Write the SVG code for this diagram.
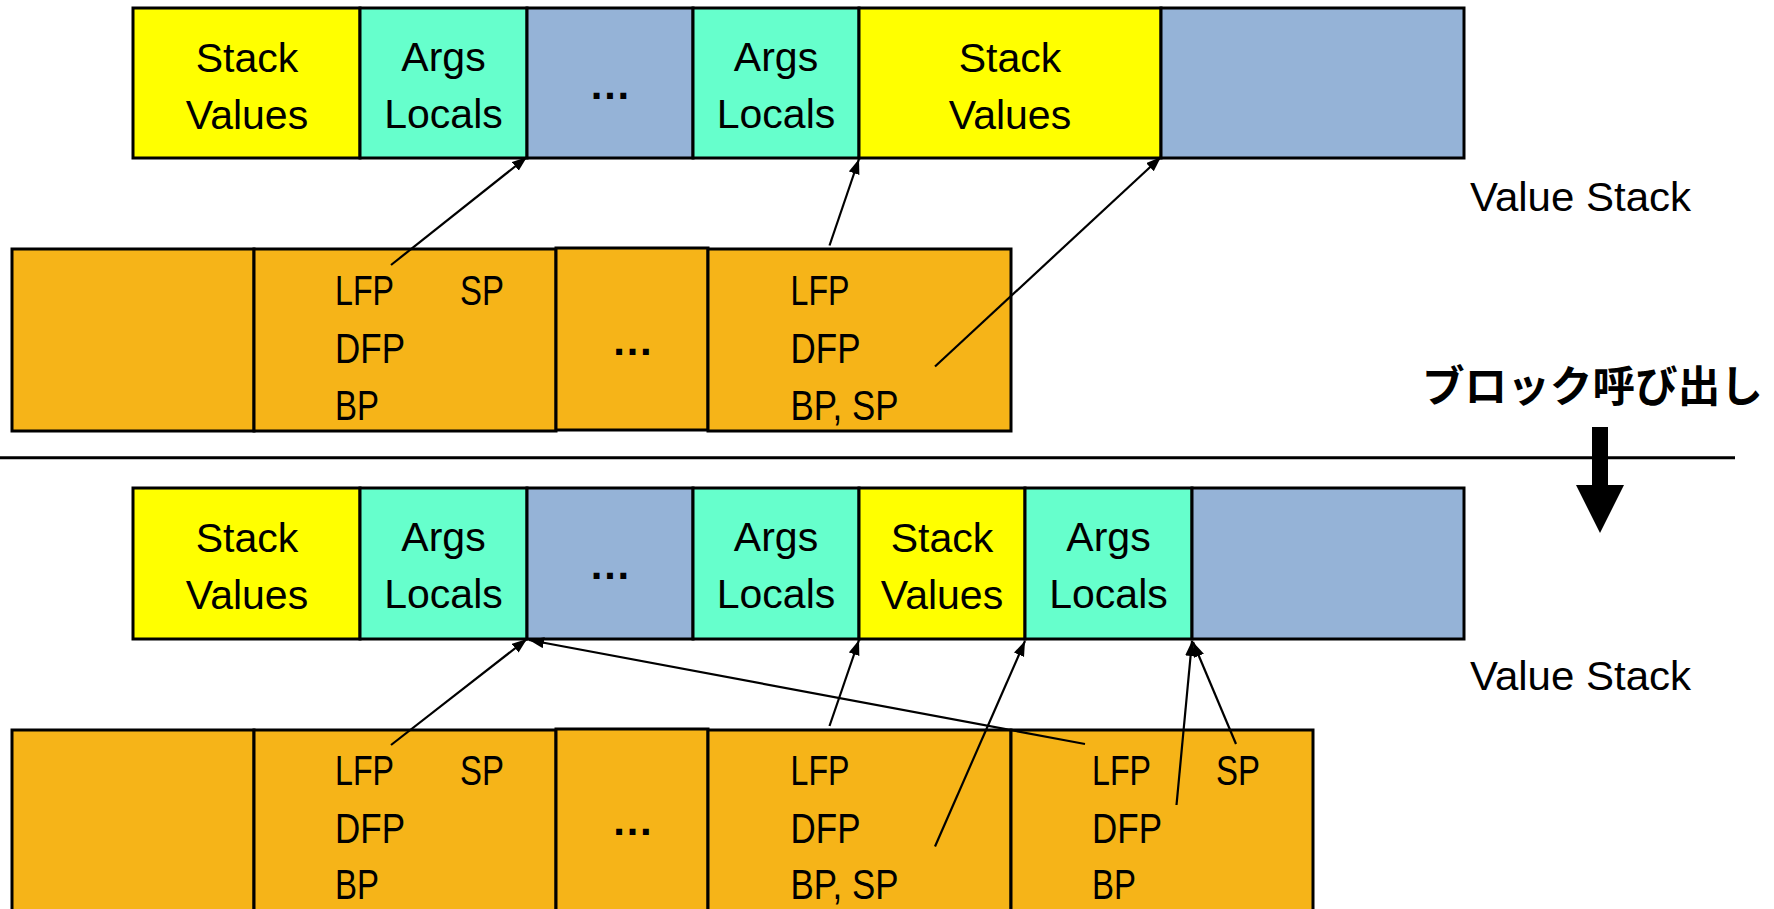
<svg xmlns="http://www.w3.org/2000/svg" width="1774" height="909" viewBox="0 0 1774 909">
<defs>
<style>
.box{stroke:#000;stroke-width:3}
.y{fill:#FFFF00}
.g{fill:#66FFCC}
.b{fill:#95B3D7}
.o{fill:#F6B418}
text{font-family:"Liberation Sans",Arial,sans-serif;font-size:41px;fill:#000}
.c{text-anchor:middle}
.d{font-weight:bold;font-size:42px}
.k{font-size:43px}
.jp{font-family:"Noto Sans CJK JP","Noto Sans CJK SC",sans-serif;font-weight:bold;font-size:43px}
.conn line{stroke:#000;stroke-width:2.2;fill:none;marker-end:url(#ah)}
</style>
<marker id="ah" markerUnits="userSpaceOnUse" markerWidth="16" markerHeight="12" refX="15" refY="5.5" orient="auto">
<path d="M0,0 L15,5.5 L0,11 z" fill="#000"/>
</marker>
</defs>
<rect width="1774" height="909" fill="#fff"/>

<!-- Top value stack -->
<g id="top-stack-values-1"><rect class="box y" x="133" y="8" width="227" height="150"/><text class="c" x="247" y="71.5">Stack</text><text class="c" x="247" y="129">Values</text></g>
<g id="top-args-locals-1"><rect class="box g" x="360" y="8" width="167" height="150"/><text class="c" x="443.5" y="71">Args</text><text class="c" x="443.5" y="128">Locals</text></g>
<g id="top-dots"><rect class="box b" x="527" y="8" width="166" height="150"/><text class="c d" x="610" y="99">…</text></g>
<g id="top-args-locals-2"><rect class="box g" x="693" y="8" width="166" height="150"/><text class="c" x="776" y="71">Args</text><text class="c" x="776" y="128">Locals</text></g>
<g id="top-stack-values-2"><rect class="box y" x="859" y="8" width="302" height="150"/><text class="c" x="1010" y="71.5">Stack</text><text class="c" x="1010" y="129">Values</text></g>
<g id="top-free"><rect class="box b" x="1161" y="8" width="303" height="150"/></g>
<g id="top-label"><text x="1470" y="210.5" textLength="221" lengthAdjust="spacingAndGlyphs">Value Stack</text></g>

<!-- Top control frames -->
<g id="top-frame-0"><rect class="box o" x="12" y="249" width="242" height="182"/></g>
<g id="top-frame-1"><rect class="box o" x="254" y="249" width="302" height="182"/>
<text class="k" x="335" y="305" textLength="59" lengthAdjust="spacingAndGlyphs">LFP</text>
<text class="k" x="460" y="305" textLength="44" lengthAdjust="spacingAndGlyphs">SP</text>
<text class="k" x="335" y="362.5" textLength="70" lengthAdjust="spacingAndGlyphs">DFP</text>
<text class="k" x="335" y="419.5" textLength="44" lengthAdjust="spacingAndGlyphs">BP</text></g>
<g id="top-frame-dots"><rect class="box o" x="556" y="248" width="152" height="182"/><text class="c d" x="632.5" y="355">…</text></g>
<g id="top-frame-2"><rect class="box o" x="708" y="249" width="303" height="182"/>
<text class="k" x="790.5" y="305" textLength="59" lengthAdjust="spacingAndGlyphs">LFP</text>
<text class="k" x="790.5" y="362.5" textLength="70" lengthAdjust="spacingAndGlyphs">DFP</text>
<text class="k" x="790.5" y="419.5" textLength="108" lengthAdjust="spacingAndGlyphs">BP, SP</text></g>

<!-- Separator and call arrow -->
<g id="separator"><line x1="0" y1="457.7" x2="1735" y2="457.7" stroke="#000" stroke-width="3"/></g>
<g id="call-label"><text class="jp" x="1422" y="402" textLength="341" lengthAdjust="spacingAndGlyphs">ブロック呼び出し</text></g>
<g id="call-arrow"><polygon points="1592,427 1608,427 1608,485 1624,485 1600,533 1576,485 1592,485" fill="#000"/></g>

<!-- Bottom value stack -->
<g id="bot-stack-values-1"><rect class="box y" x="133" y="488" width="227" height="151"/><text class="c" x="247" y="551.5">Stack</text><text class="c" x="247" y="608.5">Values</text></g>
<g id="bot-args-locals-1"><rect class="box g" x="360" y="488" width="167" height="151"/><text class="c" x="443.5" y="551">Args</text><text class="c" x="443.5" y="608">Locals</text></g>
<g id="bot-dots"><rect class="box b" x="527" y="488" width="166" height="151"/><text class="c d" x="610" y="579">…</text></g>
<g id="bot-args-locals-2"><rect class="box g" x="693" y="488" width="166" height="151"/><text class="c" x="776" y="551">Args</text><text class="c" x="776" y="608">Locals</text></g>
<g id="bot-stack-values-2"><rect class="box y" x="859" y="488" width="166" height="151"/><text class="c" x="942" y="551.5">Stack</text><text class="c" x="942" y="608.5">Values</text></g>
<g id="bot-args-locals-3"><rect class="box g" x="1025" y="488" width="167" height="151"/><text class="c" x="1108.5" y="551">Args</text><text class="c" x="1108.5" y="608">Locals</text></g>
<g id="bot-free"><rect class="box b" x="1192" y="488" width="272" height="151"/></g>
<g id="bot-label"><text x="1470" y="689.5" textLength="221" lengthAdjust="spacingAndGlyphs">Value Stack</text></g>

<!-- Bottom control frames -->
<g id="bot-frame-0"><rect class="box o" x="12" y="730" width="242" height="184"/></g>
<g id="bot-frame-1"><rect class="box o" x="254" y="730" width="302" height="184"/>
<text class="k" x="335" y="785" textLength="59" lengthAdjust="spacingAndGlyphs">LFP</text>
<text class="k" x="460" y="785" textLength="44" lengthAdjust="spacingAndGlyphs">SP</text>
<text class="k" x="335" y="842.5" textLength="70" lengthAdjust="spacingAndGlyphs">DFP</text>
<text class="k" x="335" y="899" textLength="44" lengthAdjust="spacingAndGlyphs">BP</text></g>
<g id="bot-frame-dots"><rect class="box o" x="556" y="729" width="152" height="185"/><text class="c d" x="632.5" y="835">…</text></g>
<g id="bot-frame-2"><rect class="box o" x="708" y="730" width="303" height="184"/>
<text class="k" x="790.5" y="785" textLength="59" lengthAdjust="spacingAndGlyphs">LFP</text>
<text class="k" x="790.5" y="842.5" textLength="70" lengthAdjust="spacingAndGlyphs">DFP</text>
<text class="k" x="790.5" y="899" textLength="108" lengthAdjust="spacingAndGlyphs">BP, SP</text></g>
<g id="bot-frame-3"><rect class="box o" x="1011" y="730" width="302" height="184"/>
<text class="k" x="1092" y="785" textLength="59" lengthAdjust="spacingAndGlyphs">LFP</text>
<text class="k" x="1216" y="785" textLength="44" lengthAdjust="spacingAndGlyphs">SP</text>
<text class="k" x="1092" y="842.5" textLength="70" lengthAdjust="spacingAndGlyphs">DFP</text>
<text class="k" x="1092" y="899" textLength="44" lengthAdjust="spacingAndGlyphs">BP</text></g>

<!-- Connectors -->
<g id="connectors" class="conn">
<line x1="391" y1="265" x2="527" y2="157"/>
<line x1="829.5" y1="245.5" x2="859" y2="159"/>
<line x1="935" y1="366.5" x2="1161" y2="157"/>
<line x1="391" y1="745" x2="527" y2="639"/>
<line x1="829.5" y1="726" x2="859" y2="640"/>
<line x1="1085" y1="744" x2="529" y2="640"/>
<line x1="935" y1="846.5" x2="1025" y2="641"/>
<line x1="1176.5" y1="805" x2="1192" y2="641"/>
<line x1="1236" y1="744" x2="1193" y2="642"/>
</g>
</svg>
